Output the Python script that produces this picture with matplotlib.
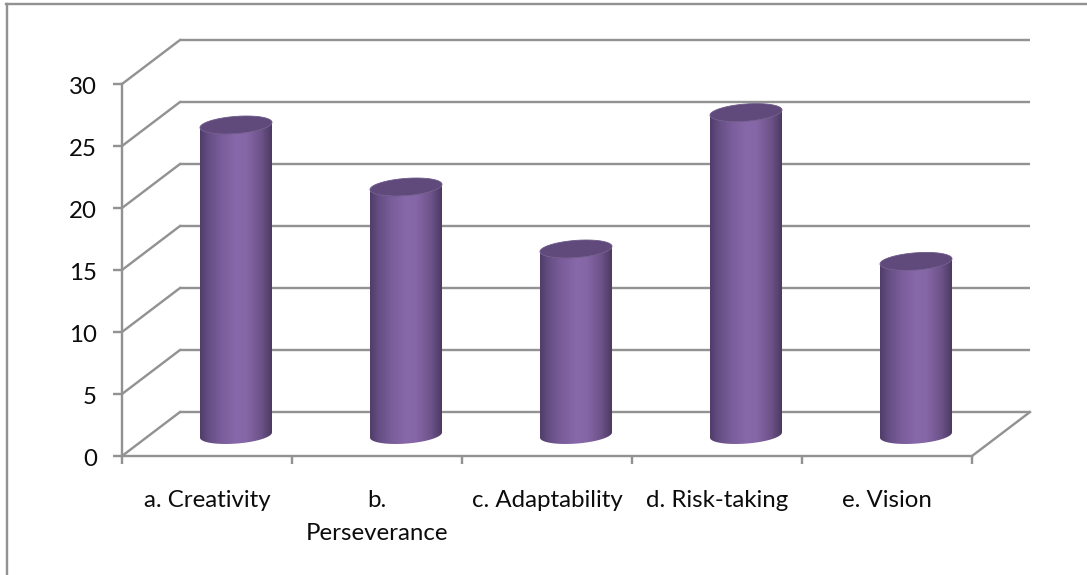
import numpy as np
import matplotlib
matplotlib.use("Agg")
import matplotlib.pyplot as plt
from matplotlib.colors import LinearSegmentedColormap
from matplotlib.lines import Line2D
from matplotlib.patches import Polygon
from matplotlib.transforms import Affine2D

categories = ["a. Creativity", "b.\nPerseverance", "c. Adaptability", "d. Risk-taking", "e. Vision"]
values = [25, 20, 15, 26, 14]
y_ticks = [0, 5, 10, 15, 20, 25, 30]

W, H = 1087, 575
GRID = "#929292"
TEXT = "#0c0c0c"
FONT = "Lato"
LABEL_SIZE = 17.3

fig = plt.figure(figsize=(W / 100, H / 100), dpi=100, facecolor="white")
ax = fig.add_axes([122 / W, 1 - 456 / H, 850 / W, 372 / H], facecolor="none")
ax.set_xlim(0, len(categories))
ax.set_ylim(0, 30)

# Pseudo-3D depth: the back wall sits up and to the right of the front plane.
DX, DY = 58, 44
back = ax.transData + Affine2D().translate(DX, DY)
mid = ax.transData + Affine2D().translate(DX / 2, DY / 2 - 1)

px_lw = 0.72 * 2.4
for v in y_ticks:
    ax.plot([0, len(categories)], [v, v], transform=back, color=GRID, lw=px_lw,
            solid_capstyle="butt", clip_on=False, zorder=1)
    # Side wall connector from the front axis to the back wall
    line = Line2D([0, DX], [0, DY], color=GRID, lw=px_lw, zorder=1, clip_on=False,
                  transform=Affine2D().translate(*ax.transData.transform((0, v))))
    fig.add_artist(line)
floor = Line2D([0, DX], [0, DY], color=GRID, lw=px_lw, clip_on=False,
               transform=Affine2D().translate(*ax.transData.transform((len(categories), 0))))
fig.add_artist(floor)

# Cylinders: a sheared ellipse at top and bottom joined by a horizontal shading ramp.
HALF_W = 36 / 170
ELL_B = 8.6 / 12.4
ELL_K = 2.6 / 12.4
side = LinearSegmentedColormap.from_list(
    "side",
    [(0.0, "#4f3d69"), (0.12, "#654e83"), (0.3, "#7a5d9b"), (0.5, "#8768a9"),
     (0.65, "#8566a6"), (0.85, "#6d5389"), (1.0, "#4c3a63")],
)
ramp = np.linspace(0, 1, 256)[None, :]
t_front = np.linspace(np.pi, 2 * np.pi, 60)
t_all = np.linspace(0, 2 * np.pi, 120)

for i, v in enumerate(values):
    cx = i + 0.5
    xs_bottom = cx + HALF_W * np.cos(t_front)
    ys_bottom = ELL_B * np.sin(t_front) + ELL_K * np.cos(t_front)
    xs_top = cx + HALF_W * np.cos(t_front[::-1])
    ys_top = v + ELL_B * np.sin(t_front[::-1]) + ELL_K * np.cos(t_front[::-1])
    body = Polygon(np.column_stack([np.r_[xs_bottom, xs_top], np.r_[ys_bottom, ys_top]]),
                   closed=True, facecolor="none", edgecolor="none", transform=mid, zorder=3)
    ax.add_patch(body)
    im = ax.imshow(ramp, cmap=side, aspect="auto", interpolation="bilinear",
                   extent=[cx - HALF_W, cx + HALF_W, -2, v + 2],
                   transform=mid, zorder=3)
    im.set_clip_path(body)
    cap = Polygon(np.column_stack([cx + HALF_W * np.cos(t_all),
                                   v + ELL_B * np.sin(t_all) + ELL_K * np.cos(t_all)]),
                  closed=True, facecolor="#5f4a7b", edgecolor="#6d5889", lw=0.6,
                  transform=mid, zorder=4)
    ax.add_patch(cap)

ax.set_xlim(0, len(categories))
ax.set_ylim(0, 30)

for name, spine in ax.spines.items():
    spine.set_visible(name in ("left", "bottom"))
    spine.set_color(GRID)
    spine.set_linewidth(px_lw)
    spine.set_zorder(2)

ax.set_yticks(y_ticks)
ax.set_xticks(range(len(categories) + 1))
ax.set_xticklabels([])
ax.tick_params(axis="y", length=6.5, width=px_lw, color=GRID, labelcolor=TEXT,
               labelsize=LABEL_SIZE, pad=11.5)
ax.tick_params(axis="x", length=6, width=px_lw, color=GRID)
# Value labels sit a little below their tick marks
for lab in ax.get_yticklabels():
    lab.set_fontfamily(FONT)
    lab.set_verticalalignment("center")
    lab.set_transform(lab.get_transform() + Affine2D().translate(0, -4))

# Category labels are centred under each slot; the wrapped one keeps its two lines.
for i, name in enumerate(categories):
    ax.annotate(name, xy=(i + 0.5, 0), xycoords="data", xytext=(0, -34),
                textcoords="offset pixels", ha="center", va="top",
                fontsize=LABEL_SIZE, family=FONT, color=TEXT, linespacing=1.72,
                annotation_clip=False)

# Page frame around the chart, open at the right and bottom
fig.add_artist(Line2D([7 / W, 7 / W], [0, 1 - 3.5 / H], color=GRID, lw=px_lw))
fig.add_artist(Line2D([6 / W, 1], [1 - 4 / H, 1 - 4 / H], color=GRID, lw=px_lw))

# Descender of a heading that is cut off by the top edge of the image
fig.text(172 / W, 1 + 9 / H, "p", family="Liberation Serif", weight="bold",
         fontsize=16, ha="center", va="baseline", color="black")

fig.savefig("out.png", dpi=100)
